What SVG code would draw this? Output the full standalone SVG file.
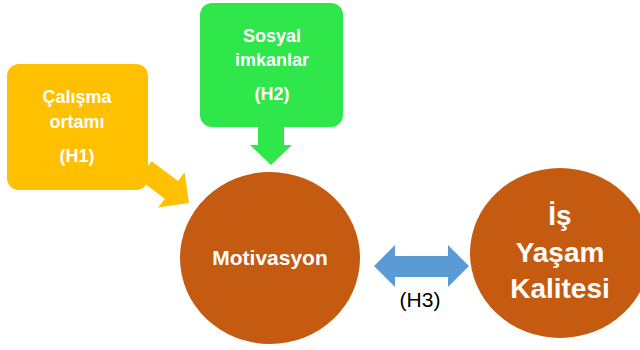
<svg xmlns="http://www.w3.org/2000/svg" width="640" height="350" viewBox="0 0 640 350">
  <style>
    .lbl { font-family: "Liberation Sans", Arial, sans-serif; font-weight: bold; fill: #ffffff; text-anchor: middle; }
    .h3 { font-family: "Liberation Sans", Arial, sans-serif; fill: #000000; text-anchor: middle; font-size: 21px; }
    .orange { fill: #C55A11; }
  </style>
  <rect width="640" height="350" fill="#ffffff"/>
  <g id="connectors">
    <polygon id="arrow-h1" fill="#FFC000" transform="translate(145,170) rotate(37)" points="0,-11 33,-11 33,-22 55,0 33,22 33,11 0,11"/>
    <polygon id="arrow-h2" fill="#2FE64B" points="258,125 284,125 284,145 292,145 271,165 250,145 258,145"/>
    <polygon id="arrow-h3" fill="#5B9BD5" points="374,266 395,245 395,256 448,256 448,245 469,266 448,287 448,277 395,277 395,287"/>
    <text class="h3" x="420" y="307">(H3)</text>
  </g>
  <g id="node-h1">
    <rect x="7" y="64" width="141" height="126" rx="12" fill="#FFC000"/>
    <text class="lbl" font-size="18" x="77" y="103">Çalışma</text>
    <text class="lbl" font-size="18" x="77" y="128">ortamı</text>
    <text class="lbl" font-size="18" x="77" y="162">(H1)</text>
  </g>
  <g id="node-h2">
    <rect x="200" y="3" width="143" height="124" rx="12" fill="#2FE64B"/>
    <text class="lbl" font-size="18" x="272" y="42">Sosyal</text>
    <text class="lbl" font-size="18" x="272" y="66">imkanlar</text>
    <text class="lbl" font-size="18" x="272" y="100">(H2)</text>
  </g>
  <g id="node-motivasyon">
    <ellipse class="orange" cx="270" cy="258" rx="90" ry="86"/>
    <text class="lbl" font-size="21" x="270" y="265">Motivasyon</text>
  </g>
  <g id="node-isyasam">
    <ellipse class="orange" cx="560" cy="253" rx="90" ry="85"/>
    <text class="lbl" font-size="28" x="560" y="225">İş</text>
    <text class="lbl" font-size="28" x="560" y="262">Yaşam</text>
    <text class="lbl" font-size="28" x="560" y="298">Kalitesi</text>
  </g>
</svg>
